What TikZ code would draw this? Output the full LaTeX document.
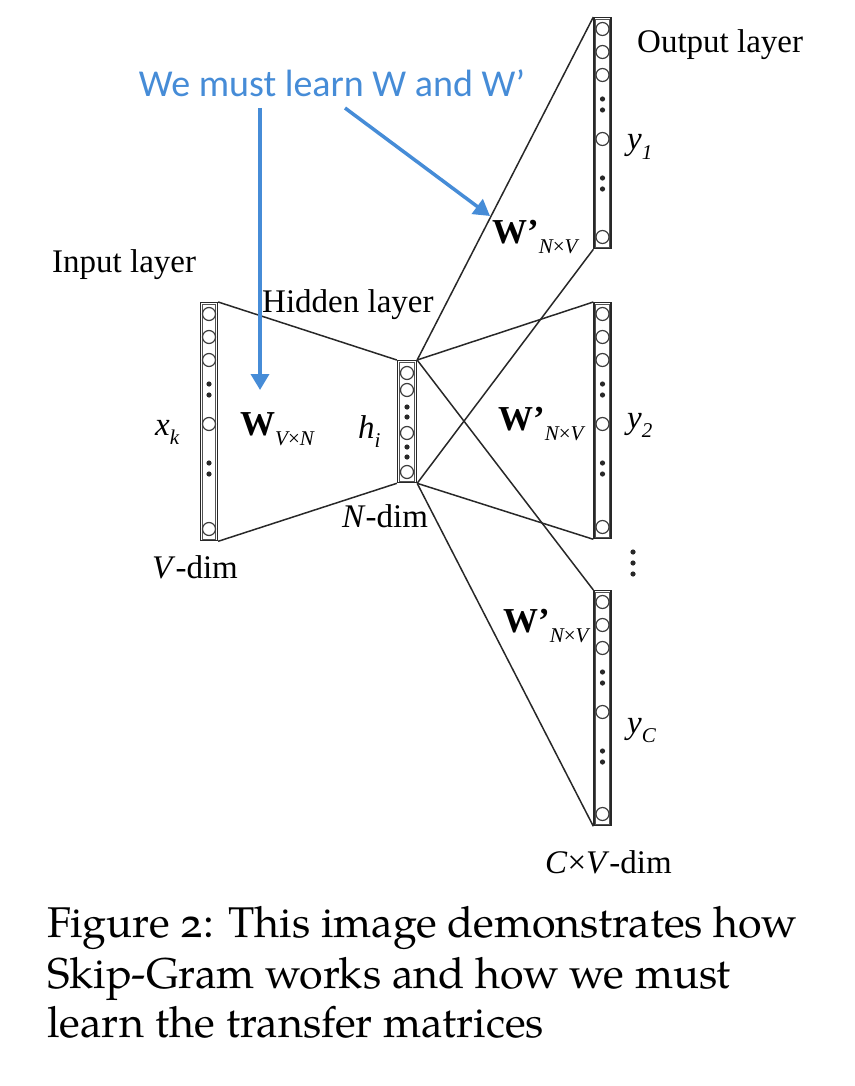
\documentclass[tikz,border=0pt]{standalone}
\usepackage{fontspec}
\setmainfont{Liberation Serif}
\newfontfamily\capfont[Numbers=OldStyle]{TeX Gyre Pagella}
\newfontfamily\bluefont{Carlito}
\usetikzlibrary{arrows.meta}
\definecolor{myblue}{RGB}{70,140,215}
\definecolor{linec}{RGB}{40,40,40}
\newcommand\sbs[1]{\raisebox{-0.3em}{\fontsize{21}{22}\selectfont\itshape #1}}
\tikzset{
  colbox/.style={draw=linec, line width=1.3pt, minimum width=17, inner sep=0, fill=white},
  colinner/.style={draw=linec!80, line width=0.7pt},
  unitc/.style={circle, draw=linec!90, line width=1.2pt, minimum size=13, inner sep=0},
  dotc/.style={fill=linec},
  conn/.style={draw=linec, line width=1.5pt},
  lbl/.style={font=\fontsize{33}{36}\selectfont, inner sep=0, anchor=base west, text=black},
  wlbl/.style={font=\fontsize{35}{38}\selectfont, inner sep=0, anchor=base west, text=black},
  bluearrow/.style={draw=myblue, line width=3.5pt, -{Triangle[length=16pt,width=18pt]}},
}
% big column: #1 name, #2 x centre, #3 top, #4 bottom
\newcommand\wcol[4]{%
  \node[colbox, minimum height={#4-#3}, anchor=north] (#1) at (#2,#3) {};
  \draw[colinner] ([xshift=2.4pt,yshift=-2.4pt]#1.north west) rectangle ([xshift=-2.4pt,yshift=2.4pt]#1.south east);
  \foreach \d in {12,35,58,122} \node[unitc] (#1-u\d) at (#2,#3+\d) {};
  \node[unitc] (#1-ul) at (#2,#4-11) {};
  \foreach \d in {82,93,161,172} \fill[dotc] (#2,#3+\d) circle (2.6);
}
\begin{document}
\begin{tikzpicture}[x=1pt,y=-1pt]
\useasboundingbox (0,0) rectangle (854,1086);

% columns
\wcol{inp}{209}{302}{540}
\wcol{outA}{602.5}{17}{248}
\wcol{outB}{602.5}{302}{538}
\wcol{outC}{602.5}{590}{825}
\node[colbox, minimum width=19, minimum height=122, anchor=north] (hid) at (407,360) {};
\draw[colinner] ([xshift=2.4pt,yshift=-2.4pt]hid.north west) rectangle ([xshift=-2.4pt,yshift=2.4pt]hid.south east);
\foreach \d in {13,30,73,112} \node[unitc] (hid-u\d) at (407,360+\d) {};
\foreach \d in {47,57,87,97} \fill[dotc] (407,360+\d) circle (2.6);

% vertical ellipsis between output columns
\foreach \yy in {552,563,574} \fill[dotc] (633,\yy) circle (2.6);

% connectors
\draw[conn] (inp.north east) -- (hid.north west);
\draw[conn] (inp.south east) -- (hid.south west);
\draw[conn] (hid.north east) -- (outA.north west);
\draw[conn] (hid.south east) -- (outA.south west);
\draw[conn] (hid.north east) -- (outB.north west);
\draw[conn] (hid.south east) -- (outB.south west);
\draw[conn] (hid.north east) -- (outC.north west);
\draw[conn] (hid.south east) -- (outC.south west);

% labels
\node[lbl] (inlbl) at (52,272) {Input layer};
\node[lbl] (hidlbl) at (262,312) {Hidden layer};
\node[lbl] (outlbl) at (637,53) {Output layer};
\node[lbl] (vdim) at (152,578) {\textit{V}-dim};
\node[lbl] (ndim) at (342,527) {\textit{N}-dim};
\node[lbl] (cvdim) at (545,873) {\textit{C}×\textit{V}-dim};
\node[lbl] (xk) at (155,435) {\textit{x}\sbs{k}};
\node[wlbl] (wvn) at (240,435) {\textbf{W}\sbs{V{\upshape ×}N}};
\node[lbl] (hi) at (358,438) {\textit{h}\sbs{i}};
\node[wlbl] (wA) at (492,243) {\textbf{W’}\sbs{N{\upshape ×}V}};
\node[wlbl] (wB) at (498,430) {\textbf{W’}\sbs{N{\upshape ×}V}};
\node[wlbl] (wC) at (503,632) {\textbf{W’}\sbs{N{\upshape ×}V}};
\node[lbl] (y1) at (627,150) {\textit{y}\sbs{1}};
\node[lbl] (y2) at (627,428) {\textit{y}\sbs{2}};
\node[lbl] (yC) at (627,733) {\textit{y}\sbs{C}};

% blue note and arrows
\node[font=\bluefont\fontsize{38}{40}\selectfont, text=myblue, anchor=base, inner sep=0] (note) at (332,97) {We must learn W and W’};
\coordinate (a1s) at (260,108);
\coordinate (a1e) at (260,390);
\coordinate (a2s) at (345,108);
\coordinate (a2e) at (490,216);
\draw[bluearrow] (a1s) -- (a1e);
\draw[bluearrow] (a2s) -- (a2e);

% caption
\node[font=\capfont\fontsize{43}{50}\selectfont, anchor=base west, inner sep=0] (cap1) at (47,937) {Figure 2: This image demonstrates how};
\node[font=\capfont\fontsize{43}{50}\selectfont, anchor=base west, inner sep=0] (cap2) at (47,988) {Skip-Gram works and how we must};
\node[font=\capfont\fontsize{43}{50}\selectfont, anchor=base west, inner sep=0] (cap3) at (47,1037) {learn the transfer matrices};
\end{tikzpicture}
\end{document}
